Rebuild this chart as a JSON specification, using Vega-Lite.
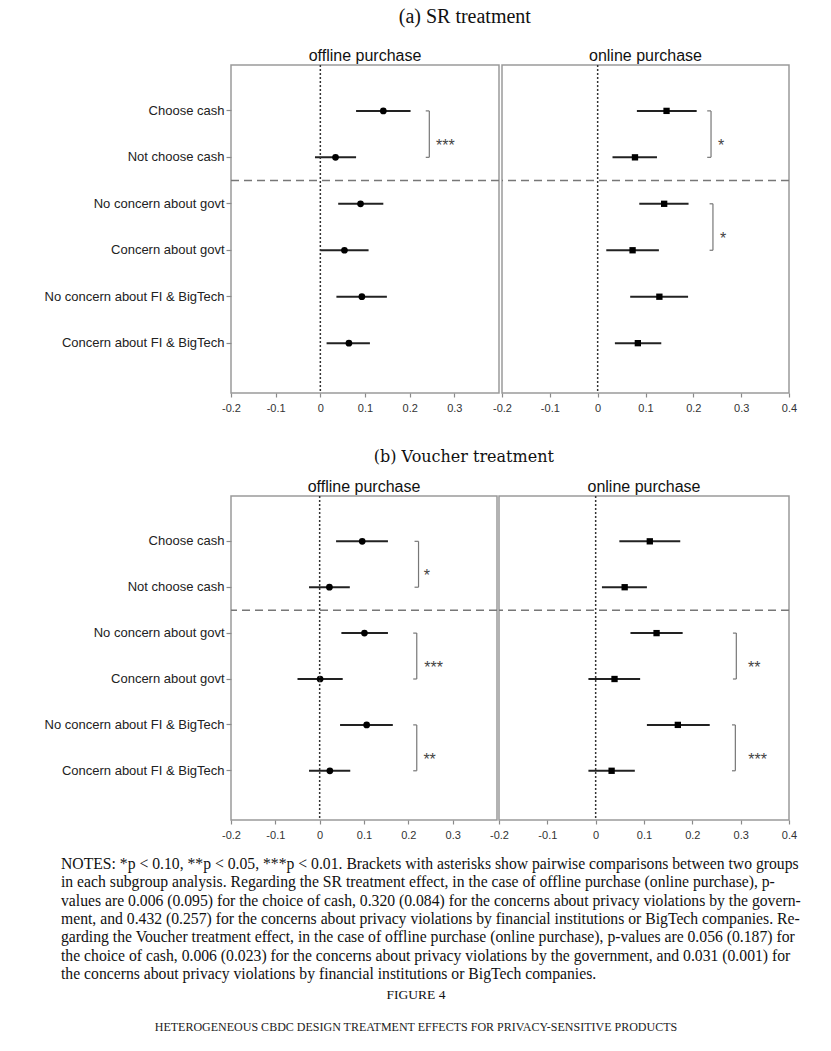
{
  "$schema": "https://vega.github.io/schema/vega-lite/v6.json",
  "background": "white",
  "padding": {"left": 40, "top": 6, "right": 0, "bottom": 0},
  "config": {
    "view": {"stroke": "#9a9a9a", "strokeWidth": 1.5},
    "axis": {"grid": false, "domain": false, "tickColor": "#8a8a8a", "tickWidth": 1.2, "labelFont": "Liberation Sans", "labelColor": "#333"},
    "axisX": {"labelFontSize": 11, "tickSize": 4, "labelPadding": 5, "labelFlush": false, "labelOverlap": false, "format": "~g"},
    "axisY": {"labelFontSize": 13, "labelColor": "#222", "tickSize": 5, "labelPadding": 2, "minExtent": 190, "maxExtent": 190, "labelLimit": 300},
    "title": {"font": "Liberation Sans", "fontSize": 16, "fontWeight": "normal", "color": "#111", "offset": 1},
    "locale": {"number": {"decimal": ".", "thousands": ",", "grouping": [3], "currency": ["$", ""], "minus": "-"}}
  },
  "datasets": {
    "est": [
      {"treatment": "SR", "purchase": "offline", "group": "Choose cash", "coef": 0.141, "lo": 0.080, "hi": 0.202},
      {"treatment": "SR", "purchase": "offline", "group": "Not choose cash", "coef": 0.034, "lo": -0.012, "hi": 0.080},
      {"treatment": "SR", "purchase": "offline", "group": "No concern about govt", "coef": 0.090, "lo": 0.040, "hi": 0.141},
      {"treatment": "SR", "purchase": "offline", "group": "Concern about govt", "coef": 0.054, "lo": 0.000, "hi": 0.108},
      {"treatment": "SR", "purchase": "offline", "group": "No concern about FI & BigTech", "coef": 0.093, "lo": 0.036, "hi": 0.149},
      {"treatment": "SR", "purchase": "offline", "group": "Concern about FI & BigTech", "coef": 0.064, "lo": 0.014, "hi": 0.111},
      {"treatment": "SR", "purchase": "online", "group": "Choose cash", "coef": 0.144, "lo": 0.082, "hi": 0.207},
      {"treatment": "SR", "purchase": "online", "group": "Not choose cash", "coef": 0.078, "lo": 0.031, "hi": 0.124},
      {"treatment": "SR", "purchase": "online", "group": "No concern about govt", "coef": 0.139, "lo": 0.087, "hi": 0.190},
      {"treatment": "SR", "purchase": "online", "group": "Concern about govt", "coef": 0.073, "lo": 0.018, "hi": 0.128},
      {"treatment": "SR", "purchase": "online", "group": "No concern about FI & BigTech", "coef": 0.129, "lo": 0.068, "hi": 0.189},
      {"treatment": "SR", "purchase": "online", "group": "Concern about FI & BigTech", "coef": 0.084, "lo": 0.036, "hi": 0.133},
      {"treatment": "Voucher", "purchase": "offline", "group": "Choose cash", "coef": 0.096, "lo": 0.037, "hi": 0.154},
      {"treatment": "Voucher", "purchase": "offline", "group": "Not choose cash", "coef": 0.022, "lo": -0.024, "hi": 0.068},
      {"treatment": "Voucher", "purchase": "offline", "group": "No concern about govt", "coef": 0.101, "lo": 0.049, "hi": 0.154},
      {"treatment": "Voucher", "purchase": "offline", "group": "Concern about govt", "coef": 0.001, "lo": -0.050, "hi": 0.052},
      {"treatment": "Voucher", "purchase": "offline", "group": "No concern about FI & BigTech", "coef": 0.106, "lo": 0.046, "hi": 0.165},
      {"treatment": "Voucher", "purchase": "offline", "group": "Concern about FI & BigTech", "coef": 0.023, "lo": -0.024, "hi": 0.069},
      {"treatment": "Voucher", "purchase": "online", "group": "Choose cash", "coef": 0.112, "lo": 0.049, "hi": 0.175},
      {"treatment": "Voucher", "purchase": "online", "group": "Not choose cash", "coef": 0.060, "lo": 0.013, "hi": 0.106},
      {"treatment": "Voucher", "purchase": "online", "group": "No concern about govt", "coef": 0.126, "lo": 0.072, "hi": 0.180},
      {"treatment": "Voucher", "purchase": "online", "group": "Concern about govt", "coef": 0.039, "lo": -0.015, "hi": 0.092},
      {"treatment": "Voucher", "purchase": "online", "group": "No concern about FI & BigTech", "coef": 0.170, "lo": 0.106, "hi": 0.236},
      {"treatment": "Voucher", "purchase": "online", "group": "Concern about FI & BigTech", "coef": 0.033, "lo": -0.015, "hi": 0.081}
    ],
    "brackets": [
      {"treatment": "SR", "purchase": "offline", "top": "Choose cash", "bottom": "Not choose cash", "bx": 0.244, "tx": 0.236, "sx": 0.280, "stars": "***"},
      {"treatment": "SR", "purchase": "online", "top": "Choose cash", "bottom": "Not choose cash", "bx": 0.237, "tx": 0.229, "sx": 0.258, "stars": "*"},
      {"treatment": "SR", "purchase": "online", "top": "No concern about govt", "bottom": "Concern about govt", "bx": 0.241, "tx": 0.234, "sx": 0.262, "stars": "*"},
      {"treatment": "Voucher", "purchase": "offline", "top": "Choose cash", "bottom": "Not choose cash", "bx": 0.223, "tx": 0.214, "sx": 0.242, "stars": "*"},
      {"treatment": "Voucher", "purchase": "offline", "top": "No concern about govt", "bottom": "Concern about govt", "bx": 0.219, "tx": 0.211, "sx": 0.257, "stars": "***"},
      {"treatment": "Voucher", "purchase": "offline", "top": "No concern about FI & BigTech", "bottom": "Concern about FI & BigTech", "bx": 0.219, "tx": 0.211, "sx": 0.248, "stars": "**"},
      {"treatment": "Voucher", "purchase": "online", "top": "No concern about govt", "bottom": "Concern about govt", "bx": 0.291, "tx": 0.284, "sx": 0.328, "stars": "**"},
      {"treatment": "Voucher", "purchase": "online", "top": "No concern about FI & BigTech", "bottom": "Concern about FI & BigTech", "bx": 0.289, "tx": 0.282, "sx": 0.335, "stars": "***"}
    ],
    "ref": [{"split": "Not choose cash"}],
    "notes": [
      {"line": 1, "text": "NOTES: *p < 0.10, **p < 0.05, ***p < 0.01. Brackets with asterisks show pairwise comparisons between two groups"},
      {"line": 2, "text": "in each subgroup analysis. Regarding the SR treatment effect, in the case of offline purchase (online purchase), p-"},
      {"line": 3, "text": "values are 0.006 (0.095) for the choice of cash, 0.320 (0.084) for the concerns about privacy violations by the govern-"},
      {"line": 4, "text": "ment, and 0.432 (0.257) for the concerns about privacy violations by financial institutions or BigTech companies. Re-"},
      {"line": 5, "text": "garding the Voucher treatment effect, in the case of offline purchase (online purchase), p-values are 0.056 (0.187) for"},
      {"line": 6, "text": "the choice of cash, 0.006 (0.023) for the concerns about privacy violations by the government, and 0.031 (0.001) for"},
      {"line": 7, "text": "the concerns about privacy violations by financial institutions or BigTech companies."}
    ]
  },
  "spacing": 15,
  "vconcat": [
    {
      "spacing": 34,
      "vconcat": [
        {
          "title": {"text": "(a) SR treatment", "font": "Liberation Serif", "fontSize": 20, "offset": 21, "dx": 46, "anchor": "middle"},
          "bounds": "flush",
          "spacing": 3,
          "hconcat": [
            {
              "width": 268, "height": 328,
              "title": {"text": "offline purchase", "offset": 0},
              "layer": [
                {"data": {"name": "est"}, "transform": [{"filter": "datum.treatment === 'SR' && datum.purchase === 'offline'"}],
                 "mark": {"type": "rule", "color": "#222", "strokeWidth": 2},
                 "encoding": {
                   "x": {"field": "lo", "type": "quantitative", "title": null, "scale": {"domain": [-0.2, 0.4], "nice": false, "zero": false}, "axis": {"title": null, "values": [-0.2, -0.1, 0, 0.1, 0.2, 0.3]}},
                   "x2": {"field": "hi"},
                   "y": {"field": "group", "type": "nominal", "title": null, "axis": {"title": null}, "scale": {"type": "band", "domain": ["Choose cash", "Not choose cash", "No concern about govt", "Concern about govt", "No concern about FI & BigTech", "Concern about FI & BigTech"], "paddingInner": 0, "paddingOuter": 0.53, "align": 0.46}}
                 }},
                {"data": {"name": "est"}, "transform": [{"filter": "datum.treatment === 'SR' && datum.purchase === 'offline'"}],
                 "mark": {"type": "point", "shape": "circle", "filled": true, "color": "#000", "opacity": 1, "size": 45},
                 "encoding": {"x": {"field": "coef", "type": "quantitative", "title": null}, "y": {"field": "group", "type": "nominal", "title": null}}},
                {"data": {"name": "ref"}, "mark": {"type": "rule", "color": "#333", "strokeDash": [2, 2], "strokeWidth": 1.5},
                 "encoding": {"x": {"datum": 0, "type": "quantitative", "title": null}}},
                {"data": {"name": "ref"}, "mark": {"type": "rule", "color": "#777", "strokeDash": [8, 5], "strokeWidth": 1.5},
                 "encoding": {"y": {"field": "split", "type": "nominal", "bandPosition": 1, "title": null}}},
                {"data": {"name": "brackets"}, "transform": [{"filter": "datum.treatment === 'SR' && datum.purchase === 'offline'"}],
                 "mark": {"type": "rule", "color": "#777", "strokeWidth": 1.2},
                 "encoding": {"x": {"field": "bx", "type": "quantitative", "title": null}, "y": {"field": "top", "type": "nominal", "title": null}, "y2": {"field": "bottom"}}},
                {"data": {"name": "brackets"}, "transform": [{"filter": "datum.treatment === 'SR' && datum.purchase === 'offline'"}],
                 "mark": {"type": "rule", "color": "#777", "strokeWidth": 1.2},
                 "encoding": {"x": {"field": "tx", "type": "quantitative", "title": null}, "x2": {"field": "bx"}, "y": {"field": "top", "type": "nominal", "title": null}}},
                {"data": {"name": "brackets"}, "transform": [{"filter": "datum.treatment === 'SR' && datum.purchase === 'offline'"}],
                 "mark": {"type": "rule", "color": "#777", "strokeWidth": 1.2},
                 "encoding": {"x": {"field": "tx", "type": "quantitative", "title": null}, "x2": {"field": "bx"}, "y": {"field": "bottom", "type": "nominal", "title": null}}},
                {"data": {"name": "brackets"}, "transform": [{"filter": "datum.treatment === 'SR' && datum.purchase === 'offline'"}],
                 "mark": {"type": "text", "font": "Liberation Sans", "fontSize": 16, "color": "#444", "baseline": "top", "dy": 4},
                 "encoding": {"x": {"field": "sx", "type": "quantitative", "title": null}, "y": {"field": "top", "type": "nominal", "bandPosition": 1, "title": null}, "text": {"field": "stars"}}}
              ]
            },
            {
              "width": 287, "height": 328,
              "title": {"text": "online purchase", "offset": 0},
              "layer": [
                {"data": {"name": "est"}, "transform": [{"filter": "datum.treatment === 'SR' && datum.purchase === 'online'"}],
                 "mark": {"type": "rule", "color": "#222", "strokeWidth": 2},
                 "encoding": {
                   "x": {"field": "lo", "type": "quantitative", "title": null, "scale": {"domain": [-0.2, 0.4], "nice": false, "zero": false}, "axis": {"title": null, "values": [-0.2, -0.1, 0, 0.1, 0.2, 0.3, 0.4]}},
                   "x2": {"field": "hi"},
                   "y": {"field": "group", "type": "nominal", "title": null, "axis": null, "scale": {"type": "band", "domain": ["Choose cash", "Not choose cash", "No concern about govt", "Concern about govt", "No concern about FI & BigTech", "Concern about FI & BigTech"], "paddingInner": 0, "paddingOuter": 0.53, "align": 0.46}}
                 }},
                {"data": {"name": "est"}, "transform": [{"filter": "datum.treatment === 'SR' && datum.purchase === 'online'"}],
                 "mark": {"type": "point", "shape": "square", "filled": true, "color": "#000", "opacity": 1, "size": 40},
                 "encoding": {"x": {"field": "coef", "type": "quantitative", "title": null}, "y": {"field": "group", "type": "nominal", "axis": null}}},
                {"data": {"name": "ref"}, "mark": {"type": "rule", "color": "#333", "strokeDash": [2, 2], "strokeWidth": 1.5},
                 "encoding": {"x": {"datum": 0, "type": "quantitative", "title": null}}},
                {"data": {"name": "ref"}, "mark": {"type": "rule", "color": "#777", "strokeDash": [8, 5], "strokeWidth": 1.5},
                 "encoding": {"y": {"field": "split", "type": "nominal", "bandPosition": 1, "axis": null}}},
                {"data": {"name": "brackets"}, "transform": [{"filter": "datum.treatment === 'SR' && datum.purchase === 'online'"}],
                 "mark": {"type": "rule", "color": "#777", "strokeWidth": 1.2},
                 "encoding": {"x": {"field": "bx", "type": "quantitative", "title": null}, "y": {"field": "top", "type": "nominal", "axis": null}, "y2": {"field": "bottom"}}},
                {"data": {"name": "brackets"}, "transform": [{"filter": "datum.treatment === 'SR' && datum.purchase === 'online'"}],
                 "mark": {"type": "rule", "color": "#777", "strokeWidth": 1.2},
                 "encoding": {"x": {"field": "tx", "type": "quantitative", "title": null}, "x2": {"field": "bx"}, "y": {"field": "top", "type": "nominal", "axis": null}}},
                {"data": {"name": "brackets"}, "transform": [{"filter": "datum.treatment === 'SR' && datum.purchase === 'online'"}],
                 "mark": {"type": "rule", "color": "#777", "strokeWidth": 1.2},
                 "encoding": {"x": {"field": "tx", "type": "quantitative", "title": null}, "x2": {"field": "bx"}, "y": {"field": "bottom", "type": "nominal", "axis": null}}},
                {"data": {"name": "brackets"}, "transform": [{"filter": "datum.treatment === 'SR' && datum.purchase === 'online'"}],
                 "mark": {"type": "text", "font": "Liberation Sans", "fontSize": 16, "color": "#444", "baseline": "top", "dy": 4},
                 "encoding": {"x": {"field": "sx", "type": "quantitative", "title": null}, "y": {"field": "top", "type": "nominal", "bandPosition": 1, "axis": null}, "text": {"field": "stars"}}}
              ]
            }
          ]
        },
        {
          "title": {"text": "(b) Voucher treatment", "font": "DejaVu Serif", "fontSize": 16, "offset": 14, "dx": 45, "anchor": "middle"},
          "bounds": "flush",
          "spacing": 2,
          "hconcat": [
            {
              "width": 266, "height": 324,
              "title": {"text": "offline purchase", "offset": 0},
              "layer": [
                {"data": {"name": "est"}, "transform": [{"filter": "datum.treatment === 'Voucher' && datum.purchase === 'offline'"}],
                 "mark": {"type": "rule", "color": "#222", "strokeWidth": 2},
                 "encoding": {
                   "x": {"field": "lo", "type": "quantitative", "title": null, "scale": {"domain": [-0.2, 0.4], "nice": false, "zero": false}, "axis": {"title": null, "values": [-0.2, -0.1, 0, 0.1, 0.2, 0.3]}},
                   "x2": {"field": "hi"},
                   "y": {"field": "group", "type": "nominal", "title": null, "axis": {"title": null}, "scale": {"type": "band", "domain": ["Choose cash", "Not choose cash", "No concern about govt", "Concern about govt", "No concern about FI & BigTech", "Concern about FI & BigTech"], "paddingInner": 0, "paddingOuter": 0.53, "align": 0.46}}
                 }},
                {"data": {"name": "est"}, "transform": [{"filter": "datum.treatment === 'Voucher' && datum.purchase === 'offline'"}],
                 "mark": {"type": "point", "shape": "circle", "filled": true, "color": "#000", "opacity": 1, "size": 45},
                 "encoding": {"x": {"field": "coef", "type": "quantitative", "title": null}, "y": {"field": "group", "type": "nominal", "title": null}}},
                {"data": {"name": "ref"}, "mark": {"type": "rule", "color": "#333", "strokeDash": [2, 2], "strokeWidth": 1.5},
                 "encoding": {"x": {"datum": 0, "type": "quantitative", "title": null}}},
                {"data": {"name": "ref"}, "mark": {"type": "rule", "color": "#777", "strokeDash": [8, 5], "strokeWidth": 1.5},
                 "encoding": {"y": {"field": "split", "type": "nominal", "bandPosition": 1, "title": null}}},
                {"data": {"name": "brackets"}, "transform": [{"filter": "datum.treatment === 'Voucher' && datum.purchase === 'offline'"}],
                 "mark": {"type": "rule", "color": "#777", "strokeWidth": 1.2},
                 "encoding": {"x": {"field": "bx", "type": "quantitative", "title": null}, "y": {"field": "top", "type": "nominal", "title": null}, "y2": {"field": "bottom"}}},
                {"data": {"name": "brackets"}, "transform": [{"filter": "datum.treatment === 'Voucher' && datum.purchase === 'offline'"}],
                 "mark": {"type": "rule", "color": "#777", "strokeWidth": 1.2},
                 "encoding": {"x": {"field": "tx", "type": "quantitative", "title": null}, "x2": {"field": "bx"}, "y": {"field": "top", "type": "nominal", "title": null}}},
                {"data": {"name": "brackets"}, "transform": [{"filter": "datum.treatment === 'Voucher' && datum.purchase === 'offline'"}],
                 "mark": {"type": "rule", "color": "#777", "strokeWidth": 1.2},
                 "encoding": {"x": {"field": "tx", "type": "quantitative", "title": null}, "x2": {"field": "bx"}, "y": {"field": "bottom", "type": "nominal", "title": null}}},
                {"data": {"name": "brackets"}, "transform": [{"filter": "datum.treatment === 'Voucher' && datum.purchase === 'offline'"}],
                 "mark": {"type": "text", "font": "Liberation Sans", "fontSize": 16, "color": "#444", "baseline": "top", "dy": 4},
                 "encoding": {"x": {"field": "sx", "type": "quantitative", "title": null}, "y": {"field": "top", "type": "nominal", "bandPosition": 1, "title": null}, "text": {"field": "stars"}}}
              ]
            },
            {
              "width": 290, "height": 324,
              "title": {"text": "online purchase", "offset": 0},
              "layer": [
                {"data": {"name": "est"}, "transform": [{"filter": "datum.treatment === 'Voucher' && datum.purchase === 'online'"}],
                 "mark": {"type": "rule", "color": "#222", "strokeWidth": 2},
                 "encoding": {
                   "x": {"field": "lo", "type": "quantitative", "title": null, "scale": {"domain": [-0.2, 0.4], "nice": false, "zero": false}, "axis": {"title": null, "values": [-0.2, -0.1, 0, 0.1, 0.2, 0.3, 0.4]}},
                   "x2": {"field": "hi"},
                   "y": {"field": "group", "type": "nominal", "title": null, "axis": null, "scale": {"type": "band", "domain": ["Choose cash", "Not choose cash", "No concern about govt", "Concern about govt", "No concern about FI & BigTech", "Concern about FI & BigTech"], "paddingInner": 0, "paddingOuter": 0.53, "align": 0.46}}
                 }},
                {"data": {"name": "est"}, "transform": [{"filter": "datum.treatment === 'Voucher' && datum.purchase === 'online'"}],
                 "mark": {"type": "point", "shape": "square", "filled": true, "color": "#000", "opacity": 1, "size": 40},
                 "encoding": {"x": {"field": "coef", "type": "quantitative", "title": null}, "y": {"field": "group", "type": "nominal", "axis": null}}},
                {"data": {"name": "ref"}, "mark": {"type": "rule", "color": "#333", "strokeDash": [2, 2], "strokeWidth": 1.5},
                 "encoding": {"x": {"datum": 0, "type": "quantitative", "title": null}}},
                {"data": {"name": "ref"}, "mark": {"type": "rule", "color": "#777", "strokeDash": [8, 5], "strokeWidth": 1.5},
                 "encoding": {"y": {"field": "split", "type": "nominal", "bandPosition": 1, "axis": null}}},
                {"data": {"name": "brackets"}, "transform": [{"filter": "datum.treatment === 'Voucher' && datum.purchase === 'online'"}],
                 "mark": {"type": "rule", "color": "#777", "strokeWidth": 1.2},
                 "encoding": {"x": {"field": "bx", "type": "quantitative", "title": null}, "y": {"field": "top", "type": "nominal", "axis": null}, "y2": {"field": "bottom"}}},
                {"data": {"name": "brackets"}, "transform": [{"filter": "datum.treatment === 'Voucher' && datum.purchase === 'online'"}],
                 "mark": {"type": "rule", "color": "#777", "strokeWidth": 1.2},
                 "encoding": {"x": {"field": "tx", "type": "quantitative", "title": null}, "x2": {"field": "bx"}, "y": {"field": "top", "type": "nominal", "axis": null}}},
                {"data": {"name": "brackets"}, "transform": [{"filter": "datum.treatment === 'Voucher' && datum.purchase === 'online'"}],
                 "mark": {"type": "rule", "color": "#777", "strokeWidth": 1.2},
                 "encoding": {"x": {"field": "tx", "type": "quantitative", "title": null}, "x2": {"field": "bx"}, "y": {"field": "bottom", "type": "nominal", "axis": null}}},
                {"data": {"name": "brackets"}, "transform": [{"filter": "datum.treatment === 'Voucher' && datum.purchase === 'online'"}],
                 "mark": {"type": "text", "font": "Liberation Sans", "fontSize": 16, "color": "#444", "baseline": "top", "dy": 4},
                 "encoding": {"x": {"field": "sx", "type": "quantitative", "title": null}, "y": {"field": "top", "type": "nominal", "bandPosition": 1, "axis": null}, "text": {"field": "stars"}}}
              ]
            }
          ]
        }
      ]
    },
    {
      "width": 750, "height": 110,
      "view": {"stroke": null},
      "title": {"text": "FIGURE 4", "orient": "bottom", "anchor": "middle", "frame": "group", "dx": -190, "font": "Liberation Serif", "fontSize": 13.5, "color": "#111", "offset": 6,
                "subtitle": "HETEROGENEOUS CBDC DESIGN TREATMENT EFFECTS FOR PRIVACY-SENSITIVE PRODUCTS", "subtitleFont": "Liberation Serif", "subtitleFontSize": 12, "subtitleColor": "#222", "subtitlePadding": 21},
      "data": {"name": "notes"},
      "mark": {"type": "text", "align": "left", "baseline": "middle", "font": "Liberation Serif", "fontSize": 15.7, "color": "#111", "x": -170},
      "encoding": {
        "y": {"field": "line", "type": "ordinal", "axis": null, "scale": {"type": "point", "padding": 0}},
        "text": {"field": "text"}
      }
    }
  ]
}
